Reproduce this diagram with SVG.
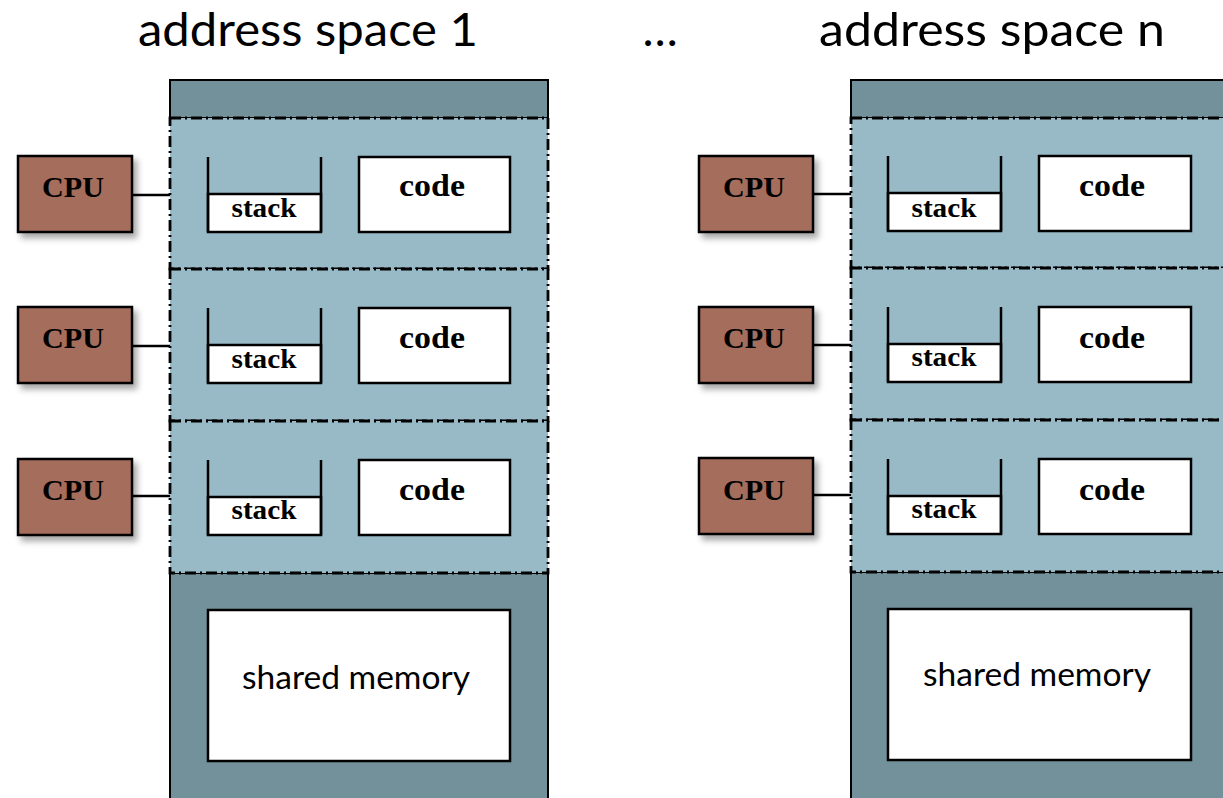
<svg xmlns="http://www.w3.org/2000/svg" width="1223" height="798" viewBox="0 0 1223 798">
<style>
.band{fill:#73919a;stroke:#000;stroke-width:2}
.thr{fill:#97bac6;stroke:#000;stroke-width:2.8;stroke-dasharray:11 4 2 4}
.cpu{fill:#a56d5b;stroke:#000;stroke-width:2.5}
.wb{fill:#fff;stroke:#000;stroke-width:2.5}
.ln{fill:none;stroke:#000;stroke-width:2.5}
.b{font-family:"Liberation Serif",serif;font-weight:bold;text-anchor:middle;fill:#000}
.s{font-family:Lato,"Noto Sans",sans-serif;text-anchor:middle;fill:#000}
</style>
<defs>
<filter id="sh" x="-20%" y="-20%" width="150%" height="150%">
<feDropShadow dx="4" dy="5" stdDeviation="3" flood-color="#000" flood-opacity="0.35"/>
</filter>
</defs>
<g id="titles">
<text class="s" x="308" y="46" font-size="47" textLength="340" lengthAdjust="spacingAndGlyphs">address space 1</text>
<text class="s" x="660" y="46" font-size="47">…</text>
<text class="s" x="992" y="46" font-size="47" textLength="346" lengthAdjust="spacingAndGlyphs">address space n</text>
</g>
<g id="connectors">
<path class="ln" d="M132,195 H172 M132,346 H172 M132,496 H172"/>
<path class="ln" d="M813,194 H853 M813,345 H853 M813,495 H853"/>
</g>
<g id="space1">
<rect class="band" x="170" y="80" width="378" height="38"/>
<rect class="band" x="170" y="573" width="378" height="240"/>
<rect class="thr" x="170" y="118" width="378" height="151"/>
<rect class="thr" x="170" y="269" width="378" height="152"/>
<rect class="thr" x="170" y="421" width="378" height="152"/>
</g>
<g id="space1-shared">
<rect class="wb" x="208" y="610" width="302" height="151"/>
<text class="s" x="356" y="689" font-size="32" textLength="228" lengthAdjust="spacingAndGlyphs">shared memory</text>
</g>
<g id="cpu1a"><rect class="cpu" filter="url(#sh)" x="18" y="156" width="114" height="76"/><text class="b" x="73" y="197" font-size="30" textLength="62" lengthAdjust="spacingAndGlyphs">CPU</text></g>
<g id="cpu1b"><rect class="cpu" filter="url(#sh)" x="18" y="307" width="114" height="76"/><text class="b" x="73" y="348" font-size="30" textLength="62" lengthAdjust="spacingAndGlyphs">CPU</text></g>
<g id="cpu1c"><rect class="cpu" filter="url(#sh)" x="18" y="459" width="114" height="76"/><text class="b" x="73" y="500" font-size="30" textLength="62" lengthAdjust="spacingAndGlyphs">CPU</text></g>
<g id="stack1a"><rect class="wb" x="208" y="194" width="113" height="38"/><path class="ln" d="M208,157 V232 M321,157 V232"/><text class="b" x="264" y="217" font-size="27" textLength="65" lengthAdjust="spacingAndGlyphs">stack</text></g>
<g id="stack1b"><rect class="wb" x="208" y="345" width="113" height="38"/><path class="ln" d="M208,308 V383 M321,308 V383"/><text class="b" x="264" y="368" font-size="27" textLength="65" lengthAdjust="spacingAndGlyphs">stack</text></g>
<g id="stack1c"><rect class="wb" x="208" y="497" width="113" height="38"/><path class="ln" d="M208,460 V535 M321,460 V535"/><text class="b" x="264" y="519" font-size="27" textLength="65" lengthAdjust="spacingAndGlyphs">stack</text></g>
<g id="code1a"><rect class="wb" x="359" y="157" width="151" height="75"/><text class="b" x="432" y="196" font-size="31" textLength="66" lengthAdjust="spacingAndGlyphs">code</text></g>
<g id="code1b"><rect class="wb" x="359" y="308" width="151" height="75"/><text class="b" x="432" y="348" font-size="31" textLength="66" lengthAdjust="spacingAndGlyphs">code</text></g>
<g id="code1c"><rect class="wb" x="359" y="460" width="151" height="75"/><text class="b" x="432" y="500" font-size="31" textLength="66" lengthAdjust="spacingAndGlyphs">code</text></g>
<g id="spacen">
<rect class="band" x="851" y="80" width="378" height="38"/>
<rect class="band" x="851" y="572" width="378" height="240"/>
<rect class="thr" x="851" y="118" width="378" height="150"/>
<rect class="thr" x="851" y="268" width="378" height="152"/>
<rect class="thr" x="851" y="420" width="378" height="152"/>
</g>
<g id="spacen-shared">
<rect class="wb" x="888" y="609" width="303" height="151"/>
<text class="s" x="1037" y="686" font-size="32" textLength="228" lengthAdjust="spacingAndGlyphs">shared memory</text>
</g>
<g id="cpuna"><rect class="cpu" filter="url(#sh)" x="699" y="156" width="114" height="76"/><text class="b" x="754" y="197" font-size="30" textLength="62" lengthAdjust="spacingAndGlyphs">CPU</text></g>
<g id="cpunb"><rect class="cpu" filter="url(#sh)" x="699" y="307" width="114" height="76"/><text class="b" x="754" y="348" font-size="30" textLength="62" lengthAdjust="spacingAndGlyphs">CPU</text></g>
<g id="cpunc"><rect class="cpu" filter="url(#sh)" x="699" y="458" width="114" height="76"/><text class="b" x="754" y="500" font-size="30" textLength="62" lengthAdjust="spacingAndGlyphs">CPU</text></g>
<g id="stackna"><rect class="wb" x="888" y="193" width="113" height="38"/><path class="ln" d="M888,156 V231 M1001,156 V231"/><text class="b" x="944" y="217" font-size="27" textLength="65" lengthAdjust="spacingAndGlyphs">stack</text></g>
<g id="stacknb"><rect class="wb" x="888" y="344" width="113" height="38"/><path class="ln" d="M888,307 V382 M1001,307 V382"/><text class="b" x="944" y="366" font-size="27" textLength="65" lengthAdjust="spacingAndGlyphs">stack</text></g>
<g id="stacknc"><rect class="wb" x="888" y="496" width="113" height="38"/><path class="ln" d="M888,459 V534 M1001,459 V534"/><text class="b" x="944" y="518" font-size="27" textLength="65" lengthAdjust="spacingAndGlyphs">stack</text></g>
<g id="codena"><rect class="wb" x="1039" y="156" width="152" height="75"/><text class="b" x="1112" y="196" font-size="31" textLength="66" lengthAdjust="spacingAndGlyphs">code</text></g>
<g id="codenb"><rect class="wb" x="1039" y="307" width="152" height="75"/><text class="b" x="1112" y="348" font-size="31" textLength="66" lengthAdjust="spacingAndGlyphs">code</text></g>
<g id="codenc"><rect class="wb" x="1039" y="459" width="152" height="75"/><text class="b" x="1112" y="500" font-size="31" textLength="66" lengthAdjust="spacingAndGlyphs">code</text></g>
</svg>
